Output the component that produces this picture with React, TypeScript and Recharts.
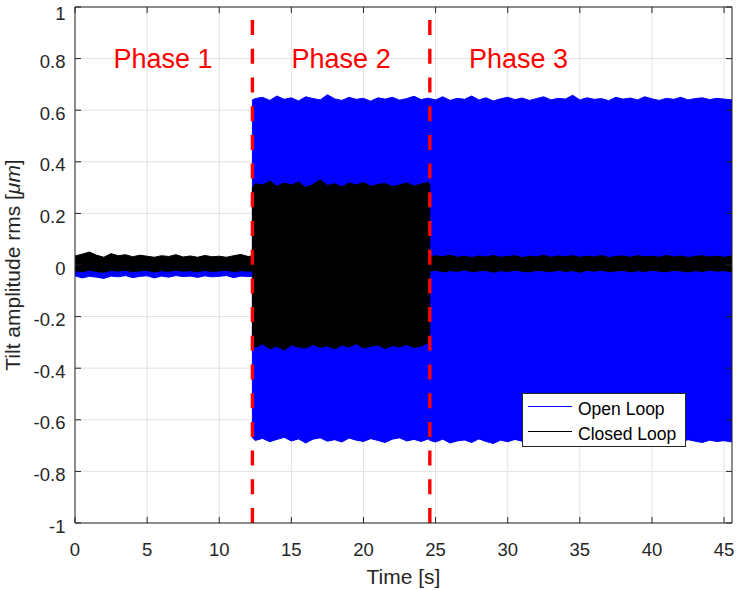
import React from 'react';
import {
  ComposedChart,
  Area,
  XAxis,
  YAxis,
  CartesianGrid,
  ReferenceLine,
  ReferenceDot,
  Legend,
} from 'recharts';

const FONT = '"Liberation Sans", Arial, Helvetica, sans-serif';
const AXIS = '#262626';

// ---- Axis ticks ----
const xTicks = [0, 5, 10, 15, 20, 25, 30, 35, 40, 45];
const yTicks = [-1, -0.8, -0.6, -0.4, -0.2, 0, 0.2, 0.4, 0.6, 0.8, 1];

// ---- Phase boundaries and labels ----
const phaseBoundaries = [12.3, 24.6];
const phaseLabels = ['Phase 1', 'Phase 2', 'Phase 3'];
const phaseLabelX = [6.1, 18.45, 30.75];
const phaseLabelY = 0.8;

// ---- Envelope of the signals (min / max per time slice) ----
// Phase 1
const phase1Time = [0, 0.5, 1, 1.5, 2, 2.5, 3, 3.5, 4, 4.5, 5, 5.5, 6, 6.5, 7, 7.5, 8, 8.5, 9, 9.5, 10, 10.5, 11, 11.5, 12, 12.3];
const openHi1 = [0.025, 0.03, 0.028, 0.026, 0.024, 0.03, 0.027, 0.025, 0.026, 0.028, 0.024, 0.027, 0.025, 0.026, 0.029, 0.024, 0.026, 0.025, 0.028, 0.024, 0.026, 0.025, 0.027, 0.03, 0.025, 0.026];
const openLo1 = [-0.042, -0.05, -0.044, -0.047, -0.052, -0.043, -0.046, -0.041, -0.049, -0.044, -0.042, -0.05, -0.043, -0.047, -0.041, -0.045, -0.043, -0.048, -0.042, -0.046, -0.044, -0.041, -0.049, -0.043, -0.045, -0.044];
const closedHi1 = [0.035, 0.042, 0.05, 0.038, 0.03, 0.044, 0.036, 0.04, 0.032, 0.038, 0.034, 0.03, 0.036, 0.033, 0.04, 0.031, 0.035, 0.03, 0.037, 0.032, 0.034, 0.03, 0.036, 0.041, 0.033, 0.035];
const closedLo1 = [-0.022, -0.026, -0.02, -0.025, -0.028, -0.021, -0.024, -0.02, -0.026, -0.023, -0.021, -0.027, -0.022, -0.025, -0.02, -0.024, -0.022, -0.026, -0.021, -0.025, -0.023, -0.02, -0.026, -0.022, -0.024, -0.023];

// Phase 2
const phase2Time = [12.3, 12.5, 13, 13.5, 14, 14.5, 15, 15.5, 16, 16.5, 17, 17.5, 18, 18.5, 19, 19.5, 20, 20.5, 21, 21.5, 22, 22.5, 23, 23.5, 24, 24.5, 24.6];
const openHi2 = [0.64, 0.645, 0.65, 0.638, 0.655, 0.642, 0.648, 0.636, 0.652, 0.645, 0.64, 0.66, 0.644, 0.638, 0.65, 0.642, 0.646, 0.635, 0.648, 0.643, 0.65, 0.639, 0.645, 0.654, 0.641, 0.647, 0.643];
const openLo2 = [-0.67, -0.68, -0.672, -0.685, -0.676, -0.668, -0.682, -0.674, -0.69, -0.675, -0.67, -0.683, -0.677, -0.686, -0.671, -0.679, -0.684, -0.673, -0.68, -0.688, -0.675, -0.67, -0.682, -0.676, -0.684, -0.674, -0.68];
const closedHi2 = [0.3, 0.315, 0.31, 0.325, 0.305, 0.318, 0.31, 0.322, 0.3, 0.312, 0.33, 0.308, 0.315, 0.302, 0.318, 0.31, 0.32, 0.305, 0.312, 0.316, 0.304, 0.31, 0.318, 0.306, 0.314, 0.32, 0.31];
const closedLo2 = [-0.31, -0.32, -0.305, -0.325, -0.315, -0.33, -0.31, -0.318, -0.322, -0.308, -0.32, -0.314, -0.326, -0.31, -0.318, -0.305, -0.322, -0.315, -0.31, -0.324, -0.312, -0.318, -0.308, -0.32, -0.314, -0.3, -0.312];

// Phase 3
const phase3Time = [24.6, 25, 25.5, 26, 26.5, 27, 27.5, 28, 28.5, 29, 29.5, 30, 30.5, 31, 31.5, 32, 32.5, 33, 33.5, 34, 34.5, 35, 35.5, 36, 36.5, 37, 37.5, 38, 38.5, 39, 39.5, 40, 40.5, 41, 41.5, 42, 42.5, 43, 43.5, 44, 44.5, 45, 45.55];
const openHi3 = [0.645, 0.64, 0.652, 0.638, 0.646, 0.642, 0.655, 0.64, 0.648, 0.636, 0.644, 0.65, 0.641, 0.647, 0.638, 0.645, 0.652, 0.64, 0.646, 0.643, 0.658, 0.64, 0.648, 0.642, 0.645, 0.637, 0.65, 0.643, 0.647, 0.64, 0.652, 0.644, 0.638, 0.646, 0.642, 0.65, 0.64, 0.645, 0.648, 0.641, 0.646, 0.643, 0.64];
const openLo3 = [-0.68, -0.686, -0.675, -0.69, -0.682, -0.678, -0.688, -0.674, -0.684, -0.692, -0.679, -0.685, -0.676, -0.683, -0.689, -0.68, -0.677, -0.686, -0.681, -0.675, -0.688, -0.683, -0.679, -0.69, -0.682, -0.676, -0.685, -0.68, -0.687, -0.678, -0.684, -0.675, -0.682, -0.689, -0.68, -0.686, -0.677, -0.683, -0.688, -0.679, -0.684, -0.681, -0.686];
const closedHi3 = [0.03, 0.036, 0.032, 0.038, 0.03, 0.034, 0.029, 0.035, 0.031, 0.037, 0.03, 0.033, 0.036, 0.029, 0.034, 0.031, 0.038, 0.03, 0.035, 0.032, 0.036, 0.03, 0.034, 0.031, 0.037, 0.029, 0.033, 0.035, 0.03, 0.036, 0.032, 0.034, 0.03, 0.037, 0.031, 0.035, 0.029, 0.033, 0.036, 0.031, 0.034, 0.03, 0.035];
const closedLo3 = [-0.024, -0.02, -0.027, -0.022, -0.025, -0.019, -0.026, -0.023, -0.021, -0.028, -0.022, -0.025, -0.02, -0.024, -0.027, -0.021, -0.023, -0.026, -0.02, -0.025, -0.022, -0.028, -0.021, -0.024, -0.02, -0.026, -0.023, -0.021, -0.027, -0.022, -0.025, -0.02, -0.024, -0.026, -0.021, -0.023, -0.027, -0.022, -0.025, -0.02, -0.024, -0.022, -0.026];

const buildRows = (time: number[], oLo: number[], oHi: number[], cLo: number[], cHi: number[]) =>
  time.map((t, i) => ({ t, open: [oLo[i], oHi[i]], closed: [cLo[i], cHi[i]] }));

const table = [
  ...buildRows(phase1Time, openLo1, openHi1, closedLo1, closedHi1),
  ...buildRows(phase2Time, openLo2, openHi2, closedLo2, closedHi2),
  ...buildRows(phase3Time, openLo3, openHi3, closedLo3, closedHi3),
];

const LegendBox = () => (
  <svg width={164} height={54} style={{ display: 'block' }}>
    <rect x={0.5} y={0.5} width={163} height={53} fill="#ffffff" stroke={AXIS} strokeWidth={1} />
    <line x1={6} x2={50} y1={13.5} y2={13.5} stroke="#0000ff" strokeWidth={1.2} />
    <text x={56} y={22} fontFamily={FONT} fontSize={17.5} fill="#000">Open Loop</text>
    <line x1={6} x2={50} y1={38.5} y2={38.5} stroke="#000000" strokeWidth={1.2} />
    <text x={56} y={47} fontFamily={FONT} fontSize={17.5} fill="#000">Closed Loop</text>
  </svg>
);

const YLabel = (props: any) => {
  const vb = props.viewBox || { x: 0, y: 7, width: 75, height: 516 };
  const cy = vb.y + vb.height / 2;
  const x = 20;
  return (
    <text
      x={x}
      y={cy}
      transform={`rotate(-90, ${x}, ${cy})`}
      textAnchor="middle"
      fontFamily={FONT}
      fontSize={21}
      fill={AXIS}
    >
      Tilt amplitude rms [<tspan fontStyle="italic">μm</tspan>]
    </text>
  );
};

const tickStyle = { fill: AXIS, fontSize: 18.5, fontFamily: FONT };

export default function App() {
  return (
    <div style={{ position: 'absolute', left: 0, top: 0, width: 738, height: 590, background: '#fff' }}>
      <ComposedChart
        width={738}
        height={590}
        data={table}
        margin={{ top: 6, right: 5, bottom: 0, left: 0 }}
      >
        <CartesianGrid stroke="#e2e2e2" strokeWidth={1} />
        <XAxis
          dataKey="t"
          type="number"
          domain={[0, 45.55]}
          ticks={xTicks}
          allowDataOverflow
          height={67}
          tickSize={-6}
          tickMargin={26}
          axisLine={{ stroke: AXIS }}
          tickLine={{ stroke: AXIS }}
          tick={tickStyle}
          label={{ value: 'Time [s]', position: 'insideBottom', offset: 6, fill: AXIS, fontSize: 21, fontFamily: FONT }}
        />
        <XAxis
          xAxisId="top"
          orientation="top"
          type="number"
          dataKey="t"
          domain={[0, 45.55]}
          ticks={xTicks}
          allowDataOverflow
          height={1}
          tickSize={-6}
          axisLine={{ stroke: AXIS }}
          tickLine={{ stroke: AXIS }}
          tickFormatter={() => ''}
        />
        <YAxis
          type="number"
          domain={[-1, 1]}
          ticks={yTicks}
          allowDataOverflow
          width={75}
          tickSize={-6}
          tickMargin={15.5}
          axisLine={{ stroke: AXIS }}
          tickLine={{ stroke: AXIS }}
          tick={{ ...tickStyle, dy: 3 }}
          label={YLabel}
        />
        <YAxis
          yAxisId="right"
          orientation="right"
          type="number"
          domain={[-1, 1]}
          ticks={yTicks}
          allowDataOverflow
          width={1}
          tickSize={-6}
          axisLine={{ stroke: AXIS }}
          tickLine={{ stroke: AXIS }}
          tickFormatter={() => ''}
        />
        <Area
          type="linear"
          dataKey="open"
          name="Open Loop"
          stroke="#0000ff"
          strokeWidth={1}
          fill="#0000ff"
          fillOpacity={1}
          isAnimationActive={false}
          dot={false}
          activeDot={false}
        />
        <Area
          type="linear"
          dataKey="closed"
          name="Closed Loop"
          stroke="#000000"
          strokeWidth={1}
          fill="#000000"
          fillOpacity={1}
          isAnimationActive={false}
          dot={false}
          activeDot={false}
        />
        {phaseBoundaries.map((x) => (
          <ReferenceLine key={x} x={x} stroke="#ff0000" strokeWidth={3.4} strokeDasharray="15 13.7" />
        ))}
        {phaseLabels.map((txt, i) => (
          <ReferenceDot
            key={txt}
            x={phaseLabelX[i]}
            y={phaseLabelY}
            r={0}
            fill="none"
            stroke="none"
            label={{ value: txt, position: 'center', fill: '#ff0000', fontSize: 27, fontFamily: FONT }}
          />
        ))}
        <Legend
          layout="horizontal"
          verticalAlign="middle"
          align="center"
          wrapperStyle={{ position: 'absolute', left: 522, top: 393, width: 164, height: 54 }}
          content={() => <LegendBox />}
        />
      </ComposedChart>
    </div>
  );
}
